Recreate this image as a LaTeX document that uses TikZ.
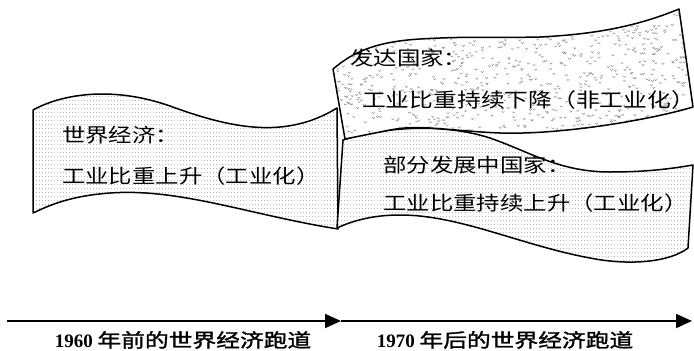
\documentclass[tikz,border=0pt]{standalone}
\usepackage{fontspec}
\setmainfont{Liberation Serif}
\newfontfamily\cjk[FakeStretch=1.2]{Noto Sans CJK SC}
\newfontfamily\cjkb[FakeStretch=1.25,FakeBold=1.6]{Noto Sans CJK SC}
\usetikzlibrary{arrows.meta}
\def\flagA{(33,110) .. controls (60,95) and (110,85) .. (170,106) .. controls (230,128) and (285,140) .. (337,108) -- (338,229) .. controls (250,215) and (180,188) .. (110,193) .. controls (70,196) and (50,205) .. (33,213) -- cycle}
\def\flagB{(333,69) .. controls (350,55) and (370,42) .. (420,39) .. controls (470,36) and (500,38) .. (540,37) .. controls (600,34) and (640,25) .. (679,9) -- (693,107) .. controls (650,120) and (560,135) .. (500,133) .. controls (450,131) and (420,124) .. (390,130) .. controls (370,134) and (355,137) .. (345,139) -- cycle}
\def\flagC{(343,140) .. controls (380,128) and (440,122) .. (490,138) .. controls (530,152) and (560,172) .. (610,172) .. controls (650,172) and (675,168) .. (693,165) -- (688,248) .. controls (670,262) and (630,266) .. (590,258) .. controls (520,245) and (460,215) .. (400,215) .. controls (370,215) and (350,222) .. (337,228) -- cycle}
\begin{document}
\begin{tikzpicture}[x=1pt,y=-1pt,
  edge/.style={line width=1.5pt,line join=round,draw=black},
  hatch/.style={draw=black!28,line width=0.5pt,dash pattern=on 1pt off 2pt},
  speck/.style={draw=black!45,line width=0.45pt},
  flagtext/.style={anchor=west,inner sep=0pt,font=\cjk\fontsize{19.5}{19.5}\selectfont},
  bigflagtext/.style={anchor=west,inner sep=0pt,font=\cjk\fontsize{19.8}{19.8}\selectfont},
  tracktext/.style={anchor=center,inner sep=0pt,font=\fontsize{19}{19}\selectfont},
  track/.style={line width=1.8pt,-{Triangle[length=16pt,width=14pt]}}]
\useasboundingbox (0,0) rectangle (694,351);
% left flag
\fill[white] \flagA;
\begin{scope}
  \clip \flagA;
  \foreach \yy in {88,92,...,232} \draw[hatch] (30,\yy) -- (340,\yy);
\end{scope}
\draw[edge] \flagA;
% lower right flag
\fill[white] \flagC;
\begin{scope}
  \clip \flagC;
  \foreach \yy in {124,128,...,268} \draw[hatch] (335,\yy) -- (695,\yy);
\end{scope}
\draw[edge] \flagC;
% upper right flag
\fill[white] \flagB;
\begin{scope}
  \clip \flagB;
  \pgfmathsetseed{12}
  \foreach \i in {1,...,950}{
    \pgfmathsetmacro\px{330+365*rnd}
    \pgfmathsetmacro\py{8+132*rnd}
    \draw[speck] (\px,\py) -- ++(1.3,1.4) -- ++(1.3,-1.4);
  }
\end{scope}
\draw[edge] \flagB;
% texts
\node[flagtext] (wl1) at (62,135) {世界经济：};
\node[flagtext] (wl2) at (62,176) {工业比重上升（工业化）};
\node[flagtext] (dv1) at (350,58) {发达国家：};
\node[bigflagtext] (dv2) at (362,100) {工业比重持续下降（非工业化）};
\node[flagtext] (dg1) at (383,165) {部分发展中国家：};
\node[flagtext] (dg2) at (383,203) {工业比重持续上升（工业化）};
% tracks
\coordinate (s0) at (7,321);
\coordinate (s1) at (341,321);
\coordinate (s2) at (692,321);
\draw[track] (s0) -- (s1);
\draw[track] (s1) -- (s2);
\node[tracktext] (t1) at (183,340) {\textbf{1960} {\cjkb 年前的世界经济跑道}};
\node[tracktext] (t2) at (505,340) {\textbf{1970} {\cjkb 年后的世界经济跑道}};
\end{tikzpicture}
\end{document}
